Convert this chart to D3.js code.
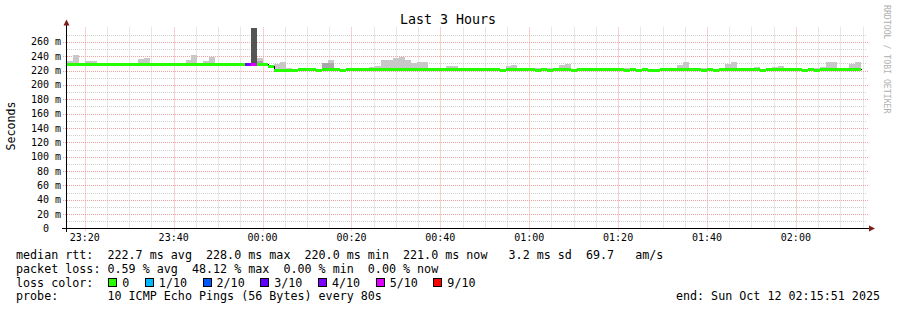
<!DOCTYPE html>
<html>
<head>
<meta charset="utf-8">
<script src="https://cdn.jsdelivr.net/npm/d3@7"></script>
<style>
body { margin: 0; background: #fff; }
text { font-family: "DejaVu Sans Mono", monospace; fill: #000; }
</style>
</head>
<body>
<svg id="chart" width="897" height="310"></svg>
<script>
// smokeping style latency chart, 3 hours, 80s steps
var stepSeconds = 80;
var startTime = new Date(2025, 9, 11, 23, 16, 0);
var endTime = new Date(2025, 9, 12, 2, 16, 0);

// median rtt per step (ms)
var medianMs = [
  228, 228, 228, 228, 228, 228, 228, 228, 228, 228, 228, 228, 228, 228, 228,
  228, 228, 228, 228, 228, 228, 228, 228, 228, 228, 228, 228, 228, 228, 228,
  228, 228, 228, 228, 225, 220, 220, 220, 220, 221.5, 221.5, 221.5, 220, 221.5, 221.5,
  221.5, 220, 221.5, 221.5, 221.5, 221.5, 221.5, 221.5, 221.5, 221.5, 221.5, 221.5, 221.5, 221.5, 221.5,
  221.5, 221.5, 221.5, 221.5, 221.5, 221.5, 221.5, 221.5, 221.5, 221.5, 221.5, 221.5, 221.5, 220, 221.5,
  221.5, 221.5, 221.5, 221.5, 220, 221.5, 220, 221.5, 221.5, 221.5, 220, 221.5, 221.5, 221.5, 221.5,
  221.5, 221.5, 221.5, 221.5, 220, 221.5, 220, 221.5, 220, 220, 221.5, 221.5, 221.5, 221.5, 221.5,
  221.5, 221.5, 220, 221.5, 220, 221.5, 221.5, 221.5, 221.5, 221.5, 221.5, 221.5, 220, 221.5, 221.5,
  221.5, 221.5, 221.5, 221.5, 220, 221.5, 220, 221.5, 221.5, 221.5, 221.5, 221.5, 221.5, 221, null
];

// highest ping per step (top of the smoke), null = nothing above the median
var maxMs = [
  234, 241, 231, 233, 234, null, null, 231, null, null, null, null, 235.5, 238, null,
  null, null, null, null, null, 235, 241, null, 234, 239.5, null, 231, 231, null, null,
  null, 279, 237, null, null, 229.8, 232.6, 223, null, null, null, null, null, 231, 234.5,
  224, null, null, null, null, 224, 225.5, 227, 234.5, 234.5, 237.5, 238.5, 234.5, 230.5, 231.8,
  232.6, 224, 224, 224, 227, 227, null, null, null, null, null, null, null, null, 227,
  228.4, null, null, null, 223, null, 223, null, 227.5, 229, null, null, null, null, null,
  null, null, null, null, 223, null, null, null, null, null, null, null, null, 228.4, 231.5,
  null, null, 223, null, null, null, 229.8, 232.6, null, null, 224, 225.5, null, null, 225.5,
  227, null, 224, 224, null, null, 223, 225.5, 232.6, 231.5, null, null, 229.8, 232.6, null
];

// darker inner smoke band: [step, top ms]
var innerSmoke = [[31, 279], [32, 233], [43, 231], [44, 231], [58, 224], [104, 224]];

// lost pings out of 10: [step, count]
var lossSteps = [[30, 4], [31, 5]];

var lossLabels = ["0", "1/10", "2/10", "3/10", "4/10", "5/10", "9/10"];
var lossLevels = [0, 1, 2, 3, 4, 5, 9];
var lossColors = ["#26ff00", "#00b8ff", "#0059ff", "#5e00ff", "#7e00ff", "#dd00ff", "#ff0000"];

var yTicks = [0, 20, 40, 60, 80, 100, 120, 140, 160, 180, 200, 220, 240, 260];

var legendLines = [
  "median rtt:  222.7 ms avg  228.0 ms max  220.0 ms min  221.0 ms now   3.2 ms sd  69.7   am/s",
  "packet loss: 0.59 % avg  48.12 % max  0.00 % min  0.00 % now"
];

var svg = d3.select("#chart");

var x = d3.scaleTime().domain([startTime, endTime]).range([67, 867]);
var y = d3.scaleLinear().domain([0, 280]).range([228.5, 27.5]);

function stepTime(i) { return new Date(startTime.getTime() + i * stepSeconds * 1000); }
function xs(i) { return Math.round(x(stepTime(i))); }
function ym(v) { return Math.round(y(v) - 0.5); }

var lossByStep = {};
lossSteps.forEach(function(d) { lossByStep[d[0]] = d[1]; });

function lossColor(n) {
  var c = lossColors[0];
  lossLevels.forEach(function(l, k) { if (n >= l) c = lossColors[k]; });
  return c;
}

// grid
var grid = svg.append("g");
var minorX = x.ticks(d3.timeMinute.every(5)).filter(function(t) { return t.getMinutes() % 20 != 0; });
var majorX = x.ticks(d3.timeMinute.every(20));

grid.selectAll(".vminor").data(minorX).enter().append("line")
  .attr("x1", function(d) { return Math.round(x(d)) + 0.5; })
  .attr("x2", function(d) { return Math.round(x(d)) + 0.5; })
  .attr("y1", y(280)).attr("y2", y(0))
  .attr("stroke", "#cfcfcf").attr("stroke-dasharray", "1,1");

var hLines = d3.range(10, 280, 10);
grid.selectAll(".hminor").data(hLines.filter(function(v) { return v % 20 != 0; })).enter().append("line")
  .attr("x1", 67).attr("x2", 867)
  .attr("y1", function(d) { return Math.round(y(d)) + 0.5; })
  .attr("y2", function(d) { return Math.round(y(d)) + 0.5; })
  .attr("stroke", "#cfcfcf").attr("stroke-dasharray", "1,1");

grid.selectAll(".vmajor").data(majorX).enter().append("line")
  .attr("x1", function(d) { return Math.round(x(d)) + 0.5; })
  .attr("x2", function(d) { return Math.round(x(d)) + 0.5; })
  .attr("y1", y(280)).attr("y2", y(0) + 2)
  .attr("stroke", "#f2a0a0").attr("stroke-dasharray", "1,1");

grid.selectAll(".hmajor").data(hLines.filter(function(v) { return v % 20 == 0; })).enter().append("line")
  .attr("x1", 63).attr("x2", 869)
  .attr("y1", function(d) { return Math.round(y(d)) + 0.5; })
  .attr("y2", function(d) { return Math.round(y(d)) + 0.5; })
  .attr("stroke", "#f2a0a0").attr("stroke-dasharray", "1,1");

// smoke
var steps = d3.range(medianMs.length);
var smoke = svg.append("g").attr("shape-rendering", "crispEdges");
smoke.selectAll("rect.outer").data(steps.filter(function(i) { return maxMs[i] != null && medianMs[i] != null; }))
  .enter().append("rect")
  .attr("x", function(i) { return xs(i); })
  .attr("width", function(i) { return xs(i + 1) - xs(i); })
  .attr("y", function(i) { return Math.round(y(maxMs[i])); })
  .attr("height", function(i) { return ym(medianMs[i]) - Math.round(y(maxMs[i])); })
  .attr("fill", "#c8c8c8");

smoke.selectAll("rect.inner").data(innerSmoke).enter().append("rect")
  .attr("x", function(d) { return xs(d[0]); })
  .attr("width", function(d) { return xs(d[0] + 1) - xs(d[0]); })
  .attr("y", function(d) { return Math.round(y(d[1])); })
  .attr("height", function(d) { return ym(medianMs[d[0]]) - Math.round(y(d[1])); })
  .attr("fill", function(d) { return lossByStep[d[0]] ? "#555555" : "#a8a8a8"; });

// median: thin black step line, loss coloured segments on top
var medLine = d3.line()
  .defined(function(d) { return d.v != null; })
  .x(function(d) { return Math.round(x(d.t)) + 0.5; })
  .y(function(d) { return ym(d.v) + 0.5; })
  .curve(d3.curveStepAfter);
var medPts = steps.map(function(i) { return { t: stepTime(i), v: medianMs[i] }; });
var lastIdx = d3.max(steps.filter(function(i) { return medianMs[i] != null; }));
medPts.splice(lastIdx + 1, 0, { t: stepTime(lastIdx + 1), v: medianMs[lastIdx] });
svg.append("path").datum(medPts)
  .attr("d", medLine).attr("fill", "none").attr("stroke", "#000").attr("stroke-width", 1)
  .attr("shape-rendering", "crispEdges");

svg.append("g").attr("shape-rendering", "crispEdges")
  .selectAll("line").data(steps.filter(function(i) { return medianMs[i] != null; }))
  .enter().append("line")
  .attr("x1", function(i) { return xs(i); })
  .attr("x2", function(i) { return xs(i + 1); })
  .attr("y1", function(i) { return ym(medianMs[i]) + 0.5; })
  .attr("y2", function(i) { return ym(medianMs[i]) + 0.5; })
  .attr("stroke", function(i) { return lossColor(lossByStep[i] || 0); })
  .attr("stroke-width", 3);

// axes
svg.append("line").attr("x1", 66.5).attr("x2", 66.5).attr("y1", 23).attr("y2", 232)
  .attr("stroke", "#000");
svg.append("line").attr("x1", 62).attr("x2", 870).attr("y1", 228.5).attr("y2", 228.5)
  .attr("stroke", "#000");
svg.append("path").attr("d", "M63.5,25.5L69.5,25.5L66.5,19.5Z").attr("fill", "#7f1d1d");
svg.append("path").attr("d", "M869,225.5L869,231.5L875,228.5Z").attr("fill", "#7f1d1d");

svg.append("g").selectAll("text").data(yTicks).enter().append("text")
  .attr("x", function(d) { return d ? 61 : 49; })
  .attr("y", function(d) { return y(d) + 3.5; })
  .attr("text-anchor", "end")
  .style("font-size", "10px")
  .text(function(d) { return d ? d + " m" : "0"; });

var fmt = d3.timeFormat("%H:%M");
svg.append("g").selectAll("text").data(majorX).enter().append("text")
  .attr("x", function(d) { return x(d); })
  .attr("y", 241)
  .attr("text-anchor", "middle")
  .style("font-size", "10px")
  .text(fmt);

// titles
svg.append("text").attr("x", 448).attr("y", 24).attr("text-anchor", "middle")
  .style("font-size", "13.3px").text("Last 3 Hours");
svg.append("text").attr("transform", "translate(15,126) rotate(-90)").attr("text-anchor", "middle")
  .style("font-size", "11.6px").text("Seconds");
svg.append("text").attr("transform", "translate(884,5) rotate(90)")
  .style("font-size", "8.2px").style("fill", "#b0b0b0").text("RRDTOOL / TOBI OETIKER");

// legend
var legend = svg.append("g").style("font-size", "11.7px").attr("xml:space", "preserve");
legend.selectAll("text.row").data(legendLines).enter().append("text")
  .attr("x", 16).attr("y", function(d, i) { return 258.5 + i * 14; })
  .style("white-space", "pre")
  .text(function(d) { return d; });

legend.append("text").attr("x", 16).attr("y", 286.5).text("loss color:");
var bx = 108.3;
lossLabels.forEach(function(lbl, k) {
  legend.append("rect").attr("x", Math.round(bx) + 0.5).attr("y", 278.5).attr("width", 8).attr("height", 8)
    .attr("fill", lossColors[k]).attr("stroke", "#000").attr("stroke-width", 1);
  legend.append("text").attr("x", bx + 14).attr("y", 286.5).text(lbl);
  bx += 14 + lbl.length * 7.05 + 15.5;
});

legend.append("text").attr("x", 16).attr("y", 300).style("white-space", "pre")
  .text("probe:       10 ICMP Echo Pings (56 Bytes) every 80s");
legend.append("text").attr("x", 880).attr("y", 300).attr("text-anchor", "end")
  .text("end: Sun Oct 12 02:15:51 2025");
</script>
</body>
</html>
